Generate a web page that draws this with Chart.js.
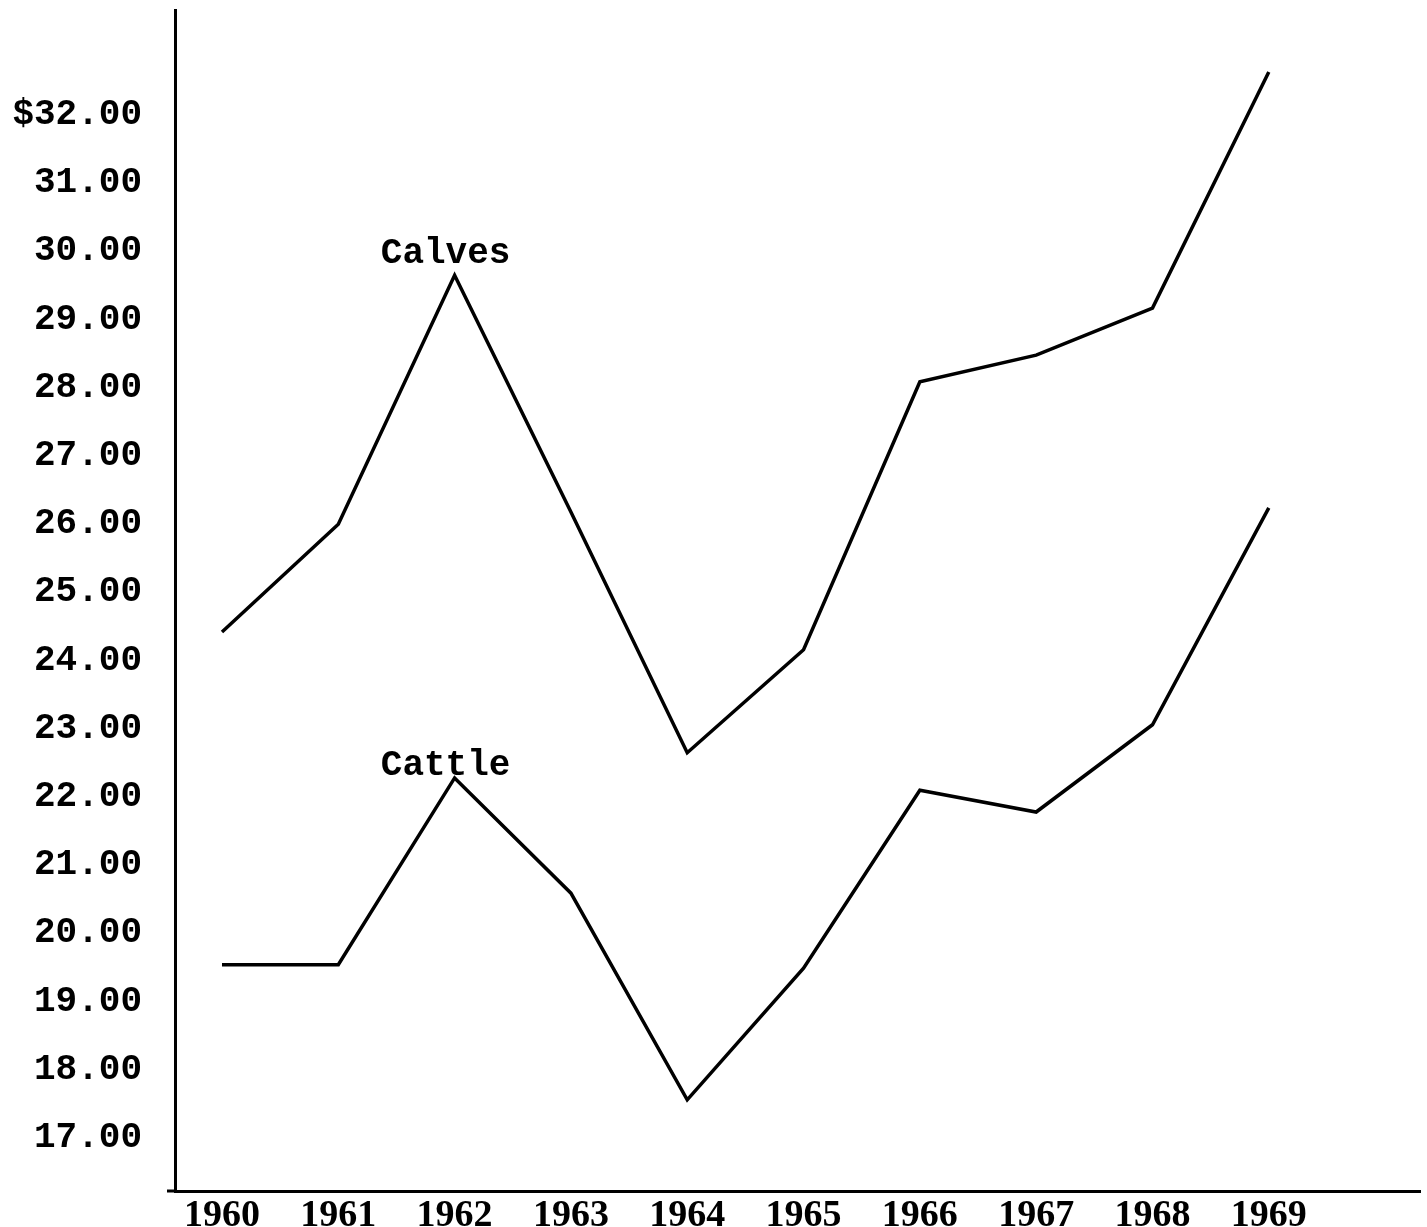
<!DOCTYPE html>
<html>
<head>
<meta charset="utf-8">
<script src="https://cdn.jsdelivr.net/npm/chart.js@4/dist/chart.umd.min.js"></script>
<style>
  html, body { margin: 0; padding: 0; background: #fff; }
  #wrap { width: 1427px; height: 1227px; position: relative; }
</style>
</head>
<body>
<div id="wrap"><canvas id="c" width="1427" height="1227"></canvas></div>
<script>
const years = [1960, 1961, 1962, 1963, 1964, 1965, 1966, 1967, 1968, 1969];
const calves = [24.42, 26.00, 29.65, 26.18, 22.65, 24.16, 28.09, 28.48, 29.17, 32.63];
const cattle = [19.54, 19.54, 22.28, 20.59, 17.56, 19.49, 22.10, 21.78, 23.06, 26.24];
const seriesNames = ['Calves', 'Cattle'];
const labelYear = [1962, 1962];
const yTickValues = [17, 18, 19, 20, 21, 22, 23, 24, 25, 26, 27, 28, 29, 30, 31, 32];
const yTickLabels = ['17.00', '18.00', '19.00', '20.00', '21.00', '22.00', '23.00', '24.00', '25.00', '26.00', '27.00', '28.00', '29.00', '30.00', '31.00', '$32.00'];
const xTickLabels = ['1960', '1961', '1962', '1963', '1964', '1965', '1966', '1967', '1968', '1969'];

const monoFont = { family: '"Liberation Mono", "DejaVu Sans Mono", monospace', size: 36, weight: 'bold' };
const serifFont = { family: '"Liberation Serif", "DejaVu Serif", serif', size: 38, weight: 'bold' };

const annotatePlugin = {
  id: 'annotate',
  afterDatasetsDraw(chart) {
    const ctx = chart.ctx;
    const xs = chart.scales.x, ys = chart.scales.y;
    ctx.save();
    ctx.strokeStyle = '#000';
    ctx.lineWidth = 3;
    ctx.beginPath();
    ctx.moveTo(chart.chartArea.left - 8, chart.chartArea.bottom);
    ctx.lineTo(chart.chartArea.left, chart.chartArea.bottom);
    ctx.stroke();
    ctx.fillStyle = '#000';
    ctx.font = 'bold 36px "Liberation Mono", "DejaVu Sans Mono", monospace';
    ctx.textAlign = 'center';
    ctx.textBaseline = 'alphabetic';
    const offsets = [12, 3];
    chart.data.datasets.forEach((ds, i) => {
      const idx = years.indexOf(labelYear[i]);
      const px = xs.getPixelForValue(labelYear[i]);
      const py = ys.getPixelForValue(ds.data[idx].y);
      ctx.fillText(seriesNames[i], px - 9, py - offsets[i]);
    });
    ctx.restore();
  }
};

new Chart(document.getElementById('c'), {
  type: 'line',
  data: {
    datasets: [
      { label: seriesNames[0], data: years.map((y, i) => ({ x: y, y: calves[i] })) },
      { label: seriesNames[1], data: years.map((y, i) => ({ x: y, y: cattle[i] })) }
    ].map(d => Object.assign(d, { borderColor: '#000', borderWidth: 3.5, pointRadius: 0, tension: 0, fill: false }))
  },
  options: {
    responsive: false,
    animation: false,
    layout: { padding: { top: 10, right: 7, left: 0, bottom: 0 } },
    plugins: { legend: { display: false }, tooltip: { enabled: false } },
    scales: {
      x: {
        type: 'linear',
        min: 1959.596,
        max: 1970.3,
        grid: { display: false, drawTicks: false },
        border: { display: true, color: '#000', width: 3 },
        afterBuildTicks: (s) => { s.ticks = years.map(v => ({ value: v })); },
        afterFit: (s) => { s.height = 36; s.paddingLeft = 0; s.paddingRight = 0; },
        ticks: {
          color: '#000',
          font: serifFont,
          padding: 2,
          maxRotation: 0,
          autoSkip: false,
          callback: (v) => xTickLabels[years.indexOf(v)]
        }
      },
      y: {
        type: 'linear',
        min: 16.223,
        max: 33.54,
        grid: { display: false, drawTicks: false },
        border: { display: true, color: '#000', width: 3 },
        afterBuildTicks: (s) => { s.ticks = yTickValues.map(v => ({ value: v })); },
        afterFit: (s) => { s.width = 175; s.paddingTop = 0; s.paddingBottom = 0; },
        ticks: {
          color: '#000',
          font: monoFont,
          padding: 33,
          autoSkip: false,
          callback: (v) => yTickLabels[yTickValues.indexOf(v)]
        }
      }
    }
  },
  plugins: [annotatePlugin]
});
</script>
</body>
</html>
